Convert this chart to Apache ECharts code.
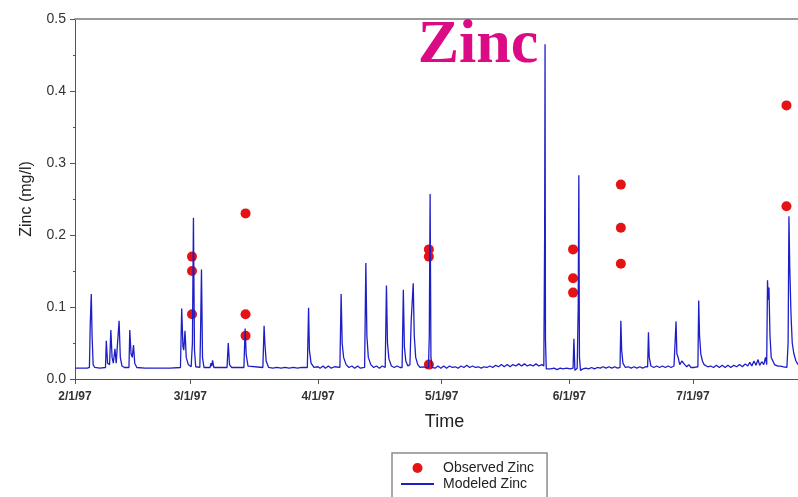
<!DOCTYPE html>
<html>
<head>
<meta charset="utf-8">
<title>Zinc</title>
<script src="https://cdn.jsdelivr.net/npm/echarts@6/dist/echarts.min.js"></script>
<style>
  html, body { margin: 0; padding: 0; background: #fff; }
  #chart { width: 798px; height: 497px; }
</style>
</head>
<body>
<div id="chart"></div>
<script>
// Day offsets are counted from 2/1/97.
const tickDays = [0, 28, 59, 89, 120, 150];
const tickLabels = ['2/1/97', '3/1/97', '4/1/97', '5/1/97', '6/1/97', '7/1/97'];

// Grab-sample concentrations (mg/l)
const observedDays = [28.4, 28.4, 28.4, 41.4, 41.4, 41.4, 85.9, 85.9, 85.9, 120.9, 120.9, 120.9, 132.5, 132.5, 132.5, 172.7, 172.7];
const observedZinc = [0.17, 0.15, 0.09, 0.23, 0.09, 0.06, 0.18, 0.17, 0.02, 0.18, 0.14, 0.12, 0.27, 0.21, 0.16, 0.38, 0.24];

// Simulated concentration time series (mg/l)
const modeledDays = [
  0, 1.5, 3.0, 3.5, 3.7, 3.95, 4.15, 4.4, 4.8, 6.0,
  7.4, 7.6, 7.9, 8.4, 8.7, 9.0, 9.3, 9.7, 10.0, 10.4, 10.7, 11.0, 11.4, 12.0,
  13.1, 13.3, 13.6, 13.9, 14.2, 14.5, 15.0, 17, 20, 23,
  25.6, 25.9, 26.2, 26.4, 26.7, 27.0, 27.5, 28.2, 28.5, 28.75, 29.0, 29.3,
  30.3, 30.45, 30.7, 30.95, 31.3, 32.8, 33.0, 33.2, 33.4, 33.7,
  36.9, 37.2, 37.5, 38.0, 41.0, 41.3, 41.55, 42.0,
  45.6, 45.9, 46.1, 46.4, 47.0, 48, 49, 50, 51, 52, 53, 54, 55,
  56.4, 56.7, 56.9, 57.3, 58, 59, 59.5, 60.2, 60.8, 61.5, 62.2, 63, 64.3,
  64.6, 64.85, 65.2, 65.8, 66.5, 67.2, 67.9, 68.6, 69.3, 70.3,
  70.6, 70.85, 71.2, 71.8, 72.5, 73.2, 73.9, 74.6, 75.3,
  75.6, 75.85, 76.2, 76.8, 77.5, 78.2, 78.9, 79.4,
  79.7, 79.95, 80.3, 80.8, 81.3, 81.6, 82.1, 82.35, 82.7, 83.2, 83.8, 84.5, 85.2, 85.8,
  86.0, 86.2, 86.4, 86.7, 87.4, 88.1, 88.8, 89.5, 90.2, 90.9, 91.6, 92.3, 93.0, 93.7,
  94.4, 95.1, 95.8, 96.5, 97.2, 97.9, 98.6, 99.3, 100.0, 100.7, 101.4, 102.1, 102.8,
  103.5, 104.2, 104.9, 105.6, 106.3, 107.0, 107.7, 108.4, 109.1, 109.8, 110.5, 111.2,
  111.9, 112.6, 113.3, 113.8, 114.0, 114.1, 114.2, 114.4, 114.8, 115.5,
  116.3, 117.0, 117.8, 118.5, 119.3, 120.2, 120.9, 121.1, 121.35, 121.6, 121.9,
  122.15, 122.3, 122.45, 122.7, 123.3, 124.0, 124.7, 125.4, 126.1, 126.8, 127.5,
  128.2, 128.9, 129.6, 130.3, 131.0, 131.7, 132.3, 132.5, 132.7, 133.0, 133.6,
  134.3, 135.0, 135.7, 136.4, 137.1, 137.8, 138.5, 139.0, 139.2, 139.4, 139.8,
  140.5, 141.2, 141.9, 142.6, 143.3, 144.0, 144.7, 145.4, 145.7, 145.9, 146.1,
  146.4, 146.8, 147.3, 148.0, 148.5, 149.0, 149.5, 150.3, 151.2, 151.4, 151.6,
  151.9, 152.3, 152.7, 153.1, 153.6, 154.3, 155.0, 155.7, 156.4, 157.1, 157.8,
  158.5, 159.2, 159.9, 160.6, 161.3, 162.0, 162.7, 163.3, 163.8, 164.3, 164.8,
  165.3, 165.8, 166.2, 166.7, 167.2, 167.6, 167.9, 168.1, 168.3, 168.45, 168.7,
  169.0, 169.4, 169.8, 170.2, 170.6, 171.2, 172.0, 172.8, 173.1, 173.3, 173.5,
  173.8, 174.1, 174.5, 175.0, 175.5
];
const modeledZinc = [
  0.015, 0.015, 0.015, 0.016, 0.076, 0.118, 0.06, 0.02, 0.016, 0.015,
  0.016, 0.053, 0.022, 0.02, 0.068, 0.03, 0.022, 0.042, 0.022, 0.024, 0.081, 0.03, 0.018, 0.016,
  0.016, 0.068, 0.035, 0.03, 0.047, 0.022, 0.016, 0.015, 0.015, 0.015,
  0.016, 0.098, 0.045, 0.04, 0.067, 0.03, 0.02, 0.017, 0.05, 0.224, 0.04, 0.017,
  0.016, 0.055, 0.152, 0.03, 0.016, 0.016, 0.022, 0.018, 0.026, 0.016,
  0.016, 0.050, 0.02, 0.016, 0.016, 0.070, 0.034, 0.018,
  0.016, 0.074, 0.049, 0.025, 0.016, 0.015, 0.016, 0.015, 0.016, 0.015, 0.016, 0.015, 0.016,
  0.016, 0.099, 0.04, 0.022, 0.016, 0.017, 0.015, 0.018, 0.015, 0.018, 0.015, 0.017, 0.016,
  0.118, 0.05, 0.03, 0.02, 0.016, 0.018, 0.015, 0.018, 0.015, 0.016,
  0.161, 0.06, 0.03, 0.02, 0.016, 0.018, 0.015, 0.018, 0.016,
  0.130, 0.05, 0.028, 0.018, 0.016, 0.018, 0.016, 0.016,
  0.124, 0.045, 0.025, 0.018, 0.02, 0.08, 0.133, 0.06, 0.03, 0.02, 0.016, 0.017, 0.016, 0.016,
  0.06, 0.257, 0.03, 0.016, 0.015, 0.018, 0.015, 0.018, 0.015, 0.018, 0.016, 0.017, 0.015, 0.018,
  0.016, 0.019, 0.016, 0.018, 0.016, 0.017, 0.015, 0.017, 0.016, 0.018, 0.016, 0.019, 0.017,
  0.02, 0.017, 0.02, 0.017, 0.02, 0.018, 0.021, 0.018, 0.021, 0.018, 0.02, 0.018,
  0.021, 0.018, 0.02, 0.018, 0.2, 0.465, 0.055, 0.014, 0.012, 0.014,
  0.015, 0.013, 0.015, 0.014, 0.015, 0.014, 0.015, 0.056, 0.012, 0.01, 0.015,
  0.1, 0.283, 0.03, 0.012, 0.014, 0.015, 0.014, 0.016, 0.014, 0.016, 0.015,
  0.017, 0.015, 0.017, 0.015, 0.017, 0.015, 0.016, 0.081, 0.04, 0.022, 0.016,
  0.017, 0.015, 0.017, 0.015, 0.017, 0.015, 0.017, 0.017, 0.065, 0.03, 0.018,
  0.016, 0.018, 0.016, 0.018, 0.016, 0.018, 0.016, 0.018, 0.017, 0.080, 0.035,
  0.03, 0.02, 0.025, 0.02, 0.017, 0.02, 0.016, 0.016, 0.017, 0.109, 0.06,
  0.035, 0.025, 0.02, 0.022, 0.017, 0.018, 0.016, 0.019, 0.016, 0.019, 0.016,
  0.019, 0.016, 0.019, 0.017, 0.02, 0.017, 0.021, 0.018, 0.023, 0.018, 0.025,
  0.019, 0.027, 0.019, 0.024, 0.02, 0.03, 0.02, 0.137, 0.11, 0.127, 0.06,
  0.03, 0.025, 0.02, 0.022, 0.018, 0.018, 0.017, 0.016, 0.05, 0.226, 0.155,
  0.09, 0.05, 0.035, 0.025, 0.02
];

const observedData = observedDays.map((d, i) => [d, observedZinc[i]]);
const modeledData = modeledDays.map((d, i) => [d, modeledZinc[i]]);

const sansFont = '"Liberation Sans", Arial, sans-serif';

const chart = echarts.init(document.getElementById('chart'), null, { renderer: 'canvas' });

chart.setOption({
  animation: false,
  backgroundColor: '#ffffff',
  textStyle: { fontFamily: sansFont },
  graphic: [{
    type: 'text',
    z: 100,
    x: 478,
    y: 46,
    style: {
      text: 'Zinc',
      align: 'center',
      verticalAlign: 'middle',
      font: 'bold 62px "Liberation Serif", "Times New Roman", serif',
      fill: '#dc0a84'
    }
  }],
  legend: {
    left: 392,
    top: 453,
    height: 40,
    width: 140,
    orient: 'vertical',
    itemWidth: 33,
    itemHeight: 10,
    itemGap: 2,
    padding: [8, 13, 12, 8],
    borderColor: '#8c8c8c',
    borderWidth: 1.5,
    backgroundColor: '#ffffff',
    textStyle: { fontSize: 14, color: '#222', fontFamily: sansFont, padding: [0, 0, 0, 4] },
    data: [
      { name: 'Observed Zinc', icon: 'circle' },
      { name: 'Modeled Zinc', itemStyle: { opacity: 0 } }
    ]
  },
  grid: { left: 75, right: 0, top: 19, bottom: 118, containLabel: false },
  xAxis: [{
    type: 'value',
    min: 0,
    max: 175.5,
    name: 'Time',
    nameLocation: 'middle',
    nameGap: 34,
    nameTextStyle: { fontSize: 18, color: '#222', padding: [0, 0, 0, 16] },
    axisLine: { show: true, lineStyle: { color: '#555', width: 1 } },
    axisTick: { show: true, length: 5, customValues: tickDays, lineStyle: { color: '#555' } },
    axisLabel: {
      customValues: tickDays,
      margin: 12,
      fontSize: 12,
      fontWeight: 'bold',
      color: '#333',
      formatter: v => tickLabels[tickDays.indexOf(v)] || ''
    },
    splitLine: { show: false }
  }, {
    // top frame line
    type: 'value',
    position: 'top',
    min: 0,
    max: 175.5,
    axisLine: { show: true, onZero: false, lineStyle: { color: '#9a9a9a', width: 2 } },
    axisTick: { show: false },
    axisLabel: { show: false },
    splitLine: { show: false }
  }],
  yAxis: {
    type: 'value',
    min: 0,
    max: 0.5,
    interval: 0.1,
    name: 'Zinc (mg/l)',
    nameLocation: 'middle',
    nameGap: 40,
    nameTextStyle: { fontSize: 16, color: '#222' },
    axisLine: { show: true, lineStyle: { color: '#555', width: 1 } },
    axisTick: { show: true, length: 5, lineStyle: { color: '#555' } },
    minorTick: { show: true, splitNumber: 2, length: 2, lineStyle: { color: '#555' } },
    axisLabel: { fontSize: 14, color: '#333', margin: 9, formatter: v => v.toFixed(1) },
    splitLine: { show: false }
  },
  series: [{
    name: 'Observed Zinc',
    type: 'scatter',
    data: observedData,
    symbol: 'circle',
    symbolSize: 10,
    itemStyle: { color: '#e41414', opacity: 1 },
    z: 2
  }, {
    name: 'Modeled Zinc',
    type: 'line',
    data: modeledData,
    showSymbol: false,
    symbol: 'none',
    lineStyle: { color: '#1e1ec8', width: 1.3 },
    itemStyle: { color: '#1e1ec8' },
    z: 3
  }]
});
</script>
</body>
</html>
